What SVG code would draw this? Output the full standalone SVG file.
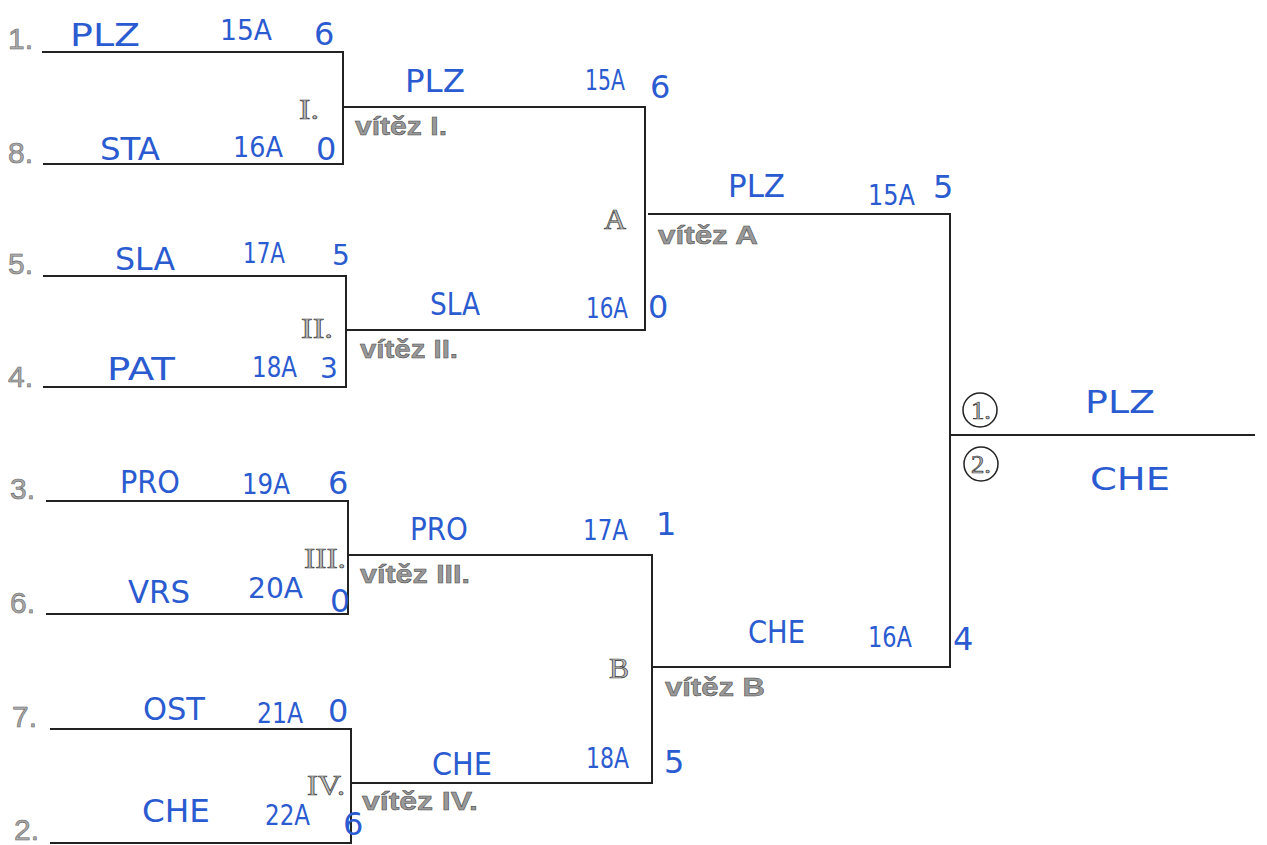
<svg xmlns="http://www.w3.org/2000/svg" width="1267" height="845" viewBox="0 0 1267 845">
<style>
.ln{stroke:#222;stroke-width:2;fill:none}
.seed{font-family:"Liberation Sans",Arial,sans-serif;font-size:30px;fill:#aaa;stroke:#666;stroke-width:0.6}
.rom{font-family:"Liberation Serif","Times New Roman",serif;font-size:30px;fill:#bbb;stroke:#333;stroke-width:0.7}
.win{font-family:"Liberation Sans",Arial,sans-serif;font-size:26px;font-weight:bold;fill:#999;stroke:#444;stroke-width:0.5}
.hw{font-family:"DejaVu Sans","Liberation Sans",sans-serif;font-size:32px;fill:#2a5bd0}
.hs{font-family:"DejaVu Sans","Liberation Sans",sans-serif;font-size:28px;fill:#2a5bd0}
.circ{fill:#fff;stroke:#222;stroke-width:1.5}
</style>
<rect width="1267" height="845" fill="#fff"/>
<g id="connectors">
<polyline class="ln" points="42,52 343,52 343,164 43,164"/>
<polyline class="ln" points="43,276 346,276 346,387 43,387"/>
<polyline class="ln" points="46,501 348,501 348,614 46,614"/>
<polyline class="ln" points="50,729 351,729 351,843 50,843"/>
<polyline class="ln" points="344,107 645,107 645,330 346,330"/>
<polyline class="ln" points="348,555 652,555 652,783 351,783"/>
<polyline class="ln" points="648,214 950,214 950,667 652,667"/>
<line class="ln" x1="950" y1="435" x2="1255" y2="435"/>
</g>
<g id="seeds">
<text class="seed" x="8" y="49">1.</text>
<text class="seed" x="8" y="163">8.</text>
<text class="seed" x="8" y="274">5.</text>
<text class="seed" x="8" y="387">4.</text>
<text class="seed" x="10" y="499">3.</text>
<text class="seed" x="10" y="613">6.</text>
<text class="seed" x="12" y="727">7.</text>
<text class="seed" x="14" y="840">2.</text>
</g>
<g id="match-I">
<text class="rom" x="299" y="119" textLength="20" lengthAdjust="spacingAndGlyphs">I.</text>
<text class="win" x="355" y="135" textLength="92" lengthAdjust="spacingAndGlyphs">vítěz I.</text>
<text class="hw" x="70" y="46" textLength="70" lengthAdjust="spacingAndGlyphs">PLZ</text>
<text class="hs" x="220" y="40" textLength="52" lengthAdjust="spacingAndGlyphs">15A</text>
<text class="hw" x="314" y="45">6</text>
<text class="hw" x="100" y="160" textLength="60" lengthAdjust="spacingAndGlyphs">STA</text>
<text class="hs" x="233" y="157" textLength="50" lengthAdjust="spacingAndGlyphs">16A</text>
<text class="hw" x="316" y="160">0</text>
</g>
<g id="match-II">
<text class="rom" x="301" y="338" textLength="32" lengthAdjust="spacingAndGlyphs">II.</text>
<text class="win" x="360" y="358" textLength="98" lengthAdjust="spacingAndGlyphs">vítěz II.</text>
<text class="hw" x="115" y="270" textLength="60" lengthAdjust="spacingAndGlyphs">SLA</text>
<text class="hs" x="243" y="263" textLength="42" lengthAdjust="spacingAndGlyphs">17A</text>
<text class="hs" x="332" y="265">5</text>
<text class="hw" x="107" y="380" textLength="68" lengthAdjust="spacingAndGlyphs">PAT</text>
<text class="hs" x="252" y="377" textLength="45" lengthAdjust="spacingAndGlyphs">18A</text>
<text class="hs" x="320" y="378">3</text>
</g>
<g id="match-III">
<text class="rom" x="304" y="568" textLength="42" lengthAdjust="spacingAndGlyphs">III.</text>
<text class="win" x="360" y="583" textLength="110" lengthAdjust="spacingAndGlyphs">vítěz III.</text>
<text class="hw" x="120" y="493" textLength="60" lengthAdjust="spacingAndGlyphs">PRO</text>
<text class="hs" x="242" y="494" textLength="48" lengthAdjust="spacingAndGlyphs">19A</text>
<text class="hw" x="328" y="494">6</text>
<text class="hw" x="128" y="603" textLength="62" lengthAdjust="spacingAndGlyphs">VRS</text>
<text class="hs" x="248" y="598" textLength="55" lengthAdjust="spacingAndGlyphs">20A</text>
<text class="hw" x="330" y="612">0</text>
</g>
<g id="match-IV">
<text class="rom" x="307" y="795" textLength="38" lengthAdjust="spacingAndGlyphs">IV.</text>
<text class="win" x="362" y="810" textLength="116" lengthAdjust="spacingAndGlyphs">vítěz IV.</text>
<text class="hw" x="143" y="720" textLength="62" lengthAdjust="spacingAndGlyphs">OST</text>
<text class="hs" x="257" y="723" textLength="46" lengthAdjust="spacingAndGlyphs">21A</text>
<text class="hw" x="328" y="722">0</text>
<text class="hw" x="142" y="822" textLength="68" lengthAdjust="spacingAndGlyphs">CHE</text>
<text class="hs" x="265" y="825" textLength="45" lengthAdjust="spacingAndGlyphs">22A</text>
<text class="hw" x="343" y="835">6</text>
</g>
<g id="match-A">
<text class="rom" x="604" y="229" textLength="22" lengthAdjust="spacingAndGlyphs">A</text>
<text class="win" x="658" y="244" textLength="100" lengthAdjust="spacingAndGlyphs">vítěz A</text>
<text class="hw" x="405" y="92" textLength="60" lengthAdjust="spacingAndGlyphs">PLZ</text>
<text class="hs" x="585" y="90" textLength="40" lengthAdjust="spacingAndGlyphs">15A</text>
<text class="hw" x="650" y="98">6</text>
<text class="hw" x="430" y="315" textLength="50" lengthAdjust="spacingAndGlyphs">SLA</text>
<text class="hs" x="586" y="318" textLength="42" lengthAdjust="spacingAndGlyphs">16A</text>
<text class="hw" x="648" y="318">0</text>
</g>
<g id="match-B">
<text class="rom" x="609" y="678" textLength="20" lengthAdjust="spacingAndGlyphs">B</text>
<text class="win" x="665" y="696" textLength="100" lengthAdjust="spacingAndGlyphs">vítěz B</text>
<text class="hw" x="410" y="540" textLength="58" lengthAdjust="spacingAndGlyphs">PRO</text>
<text class="hs" x="583" y="540" textLength="45" lengthAdjust="spacingAndGlyphs">17A</text>
<text class="hw" x="656" y="535">1</text>
<text class="hw" x="432" y="775" textLength="60" lengthAdjust="spacingAndGlyphs">CHE</text>
<text class="hs" x="586" y="768" textLength="43" lengthAdjust="spacingAndGlyphs">18A</text>
<text class="hw" x="664" y="773">5</text>
</g>
<g id="final-semis">
<text class="hw" x="728" y="197" textLength="57" lengthAdjust="spacingAndGlyphs">PLZ</text>
<text class="hs" x="868" y="205" textLength="47" lengthAdjust="spacingAndGlyphs">15A</text>
<text class="hw" x="933" y="198">5</text>
<text class="hw" x="748" y="643" textLength="57" lengthAdjust="spacingAndGlyphs">CHE</text>
<text class="hs" x="868" y="647" textLength="44" lengthAdjust="spacingAndGlyphs">16A</text>
<text class="hw" x="953" y="650">4</text>
</g>
<g id="final">
<circle class="circ" cx="980" cy="410" r="17"/>
<text class="rom" x="971" y="419" style="font-size:25px" textLength="20" lengthAdjust="spacingAndGlyphs">1.</text>
<circle class="circ" cx="981" cy="464" r="17"/>
<text class="rom" x="971" y="473" style="font-size:25px" textLength="20" lengthAdjust="spacingAndGlyphs">2.</text>
<text class="hw" x="1085" y="413" textLength="70" lengthAdjust="spacingAndGlyphs">PLZ</text>
<text class="hw" x="1090" y="490" textLength="80" lengthAdjust="spacingAndGlyphs">CHE</text>
</g>
</svg>
